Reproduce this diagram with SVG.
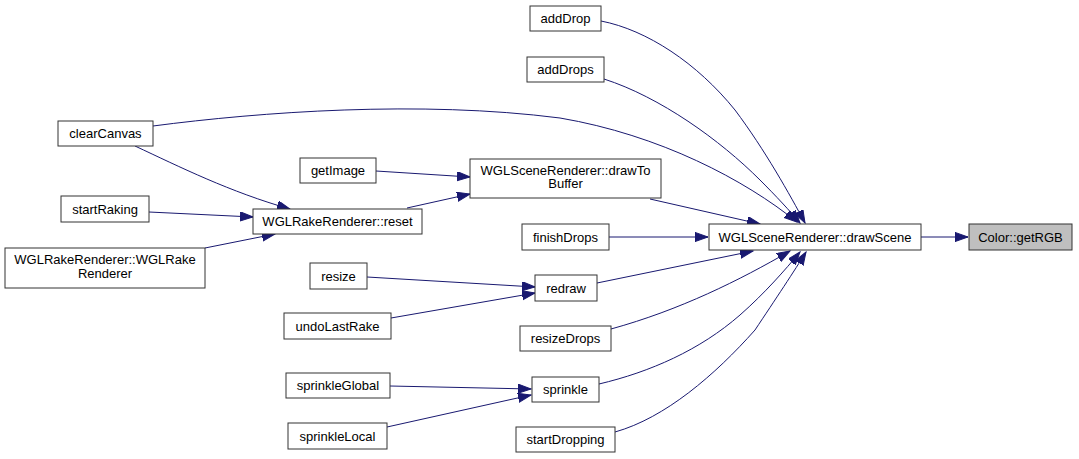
<svg xmlns="http://www.w3.org/2000/svg" width="1079" height="459" viewBox="0 0 1079 459">
<style>
.n rect{fill:#fff;stroke:#333;stroke-width:1}
.n text{font-family:"Liberation Sans",Arial,sans-serif;font-size:13px;fill:#000;text-anchor:middle}
.e path{fill:none;stroke:#191970;stroke-width:1;marker-end:url(#a)}
</style>
<defs>
<marker id="a" markerWidth="15" markerHeight="11" refX="13" refY="4.6" orient="auto" markerUnits="userSpaceOnUse">
<path d="M0,0 L13,4.6 L0,9.2 Z" fill="#191970" stroke="#191970" stroke-width="1"/>
</marker>
</defs>
<rect width="1079" height="459" fill="#fff"/>
<g class="e" id="edges">
<path d="M921,237 L968,237"/>
<path d="M601,21 C647,30 697,63 735,110 C765,150 790,195 805,223"/>
<path d="M604,79 C660,97 720,140 760,180 C776,196 790,211 800,223"/>
<path d="M153,126 C260,112 420,100 560,118 C660,135 745,180 797,222"/>
<path d="M650,199 L760,224"/>
<path d="M609,237 L708,237"/>
<path d="M597,283 L753,251"/>
<path d="M611,329 C680,310 740,280 790,251"/>
<path d="M599,384 C650,372 700,350 740,315 C765,293 785,270 800,252"/>
<path d="M615,432 C665,418 715,375 755,330 C775,300 795,270 806,252"/>
<path d="M376,171 L470,177"/>
<path d="M407,208 L470,194"/>
<path d="M135,146 C180,167 230,192 290,209"/>
<path d="M149,212 L253,217"/>
<path d="M205,248 L275,234"/>
<path d="M367,277 L535,287"/>
<path d="M391,318 L535,293"/>
<path d="M390,386 L531,389"/>
<path d="M387,427 L531,395"/>
</g>
<g class="n" id="getRGB"><rect x="969" y="224" width="103" height="26" style="fill:#bfbfbf"/><text x="1020.5" y="241.5">Color::getRGB</text></g>
<g class="n" id="drawScene"><rect x="709" y="224" width="212" height="26"/><text x="815" y="241.5">WGLSceneRenderer::drawScene</text></g>
<g class="n" id="addDrop"><rect x="530" y="6" width="71" height="25"/><text x="565.5" y="23">addDrop</text></g>
<g class="n" id="addDrops"><rect x="527" y="57" width="77" height="25"/><text x="565.5" y="74">addDrops</text></g>
<g class="n" id="clearCanvas"><rect x="58" y="121" width="95" height="25"/><text x="105.5" y="138">clearCanvas</text></g>
<g class="n" id="getImage"><rect x="300" y="158" width="76" height="25"/><text x="338" y="175">getImage</text></g>
<g class="n" id="drawToBuffer"><rect x="470" y="159" width="191" height="39"/><text x="565.5" y="175">WGLSceneRenderer::drawTo</text><text x="565.5" y="188">Buffer</text></g>
<g class="n" id="startRaking"><rect x="61" y="196" width="88" height="26"/><text x="105" y="213.5">startRaking</text></g>
<g class="n" id="reset"><rect x="253" y="209" width="169" height="25"/><text x="337.5" y="226">WGLRakeRenderer::reset</text></g>
<g class="n" id="ctor"><rect x="5" y="248" width="200" height="40"/><text x="105" y="264">WGLRakeRenderer::WGLRake</text><text x="105" y="278">Renderer</text></g>
<g class="n" id="finishDrops"><rect x="522" y="224" width="87" height="26"/><text x="565.5" y="241.5">finishDrops</text></g>
<g class="n" id="resize"><rect x="310" y="263" width="57" height="26"/><text x="338.5" y="280.5">resize</text></g>
<g class="n" id="redraw"><rect x="535" y="275" width="62" height="26"/><text x="566" y="292.5">redraw</text></g>
<g class="n" id="undoLastRake"><rect x="284" y="313" width="107" height="26"/><text x="337.5" y="330.5">undoLastRake</text></g>
<g class="n" id="resizeDrops"><rect x="520" y="326" width="91" height="25"/><text x="565.5" y="343">resizeDrops</text></g>
<g class="n" id="sprinkleGlobal"><rect x="286" y="373" width="104" height="25"/><text x="338" y="390">sprinkleGlobal</text></g>
<g class="n" id="sprinkle"><rect x="532" y="377" width="67" height="25"/><text x="565.5" y="394">sprinkle</text></g>
<g class="n" id="sprinkleLocal"><rect x="288" y="423" width="99" height="26"/><text x="337.5" y="440.5">sprinkleLocal</text></g>
<g class="n" id="startDropping"><rect x="516" y="427" width="99" height="25"/><text x="565.5" y="444">startDropping</text></g>
</svg>
